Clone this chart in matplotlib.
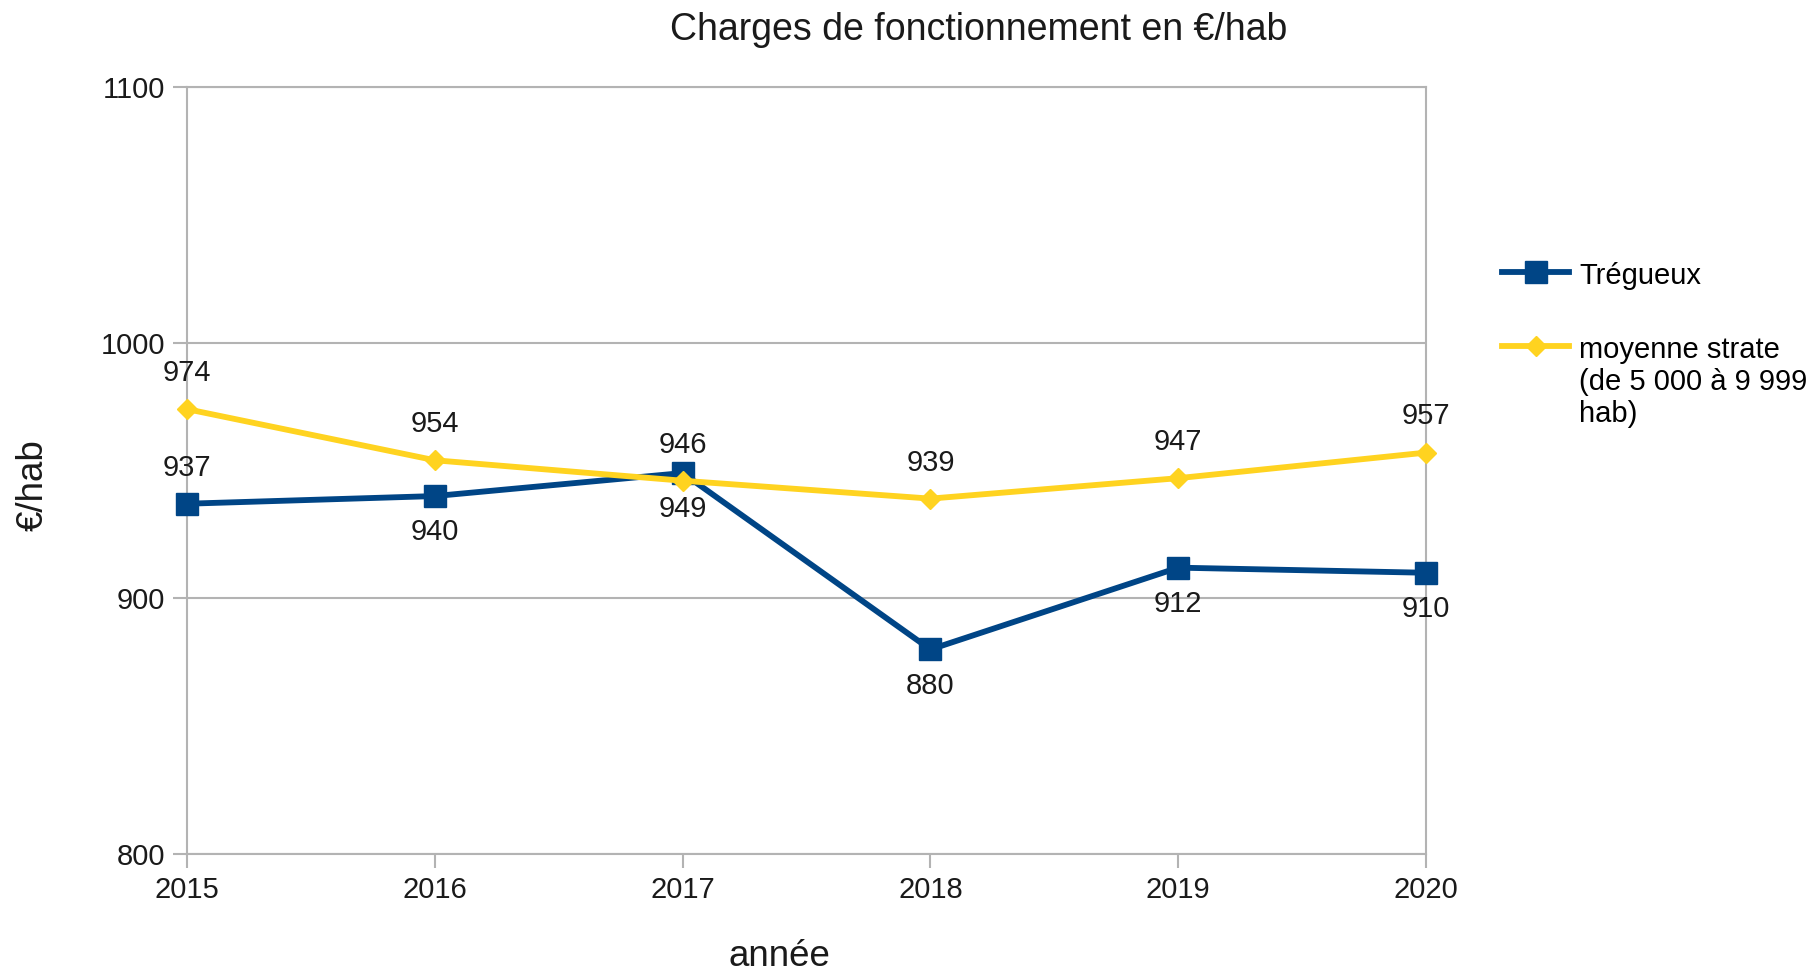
import matplotlib.pyplot as plt
from matplotlib.ticker import MultipleLocator

plt.rcParams['font.family'] = ['Liberation Sans', 'DejaVu Sans']

# data
years = [2015, 2016, 2017, 2018, 2019, 2020]
tregueux = [937, 940, 949, 880, 912, 910]
moyenne = [974, 954, 946, 939, 947, 957]
label_tregueux = 'Trégueux'
label_moyenne = 'moyenne strate\n(de 5 000 à 9 999\nhab)'

blue = '#004586'
yellow = '#ffd320'
grey = '#b3b3b3'
txt = '#1a1a1a'

fig = plt.figure(figsize=(18.12, 9.73), dpi=100)
ax = fig.add_axes([0.1032, 0.1223, 0.6838, 0.7883])

ax.plot(years, tregueux, color=blue, lw=4.2, marker='s', ms=16.5,
        label=label_tregueux, zorder=3, clip_on=False)
ax.plot(years, moyenne, color=yellow, lw=4.2, marker='D', ms=10,
        label=label_moyenne, zorder=4, clip_on=False)

# data labels (blue: first above, rest below; yellow: all above)
tregueux_side = [1, -1, -1, -1, -1, -1]
for x, y, s in zip(years, tregueux, tregueux_side):
    ax.annotate(str(y), (x, y), xytext=(0, 26 * s), textcoords='offset points',
                ha='center', va='center', fontsize=21, color=txt)
for x, y in zip(years, moyenne):
    ax.annotate(str(y), (x, y), xytext=(0, 26), textcoords='offset points',
                ha='center', va='center', fontsize=21, color=txt)

ax.set_xlim(2015, 2020)
ax.set_ylim(800, 1100)
ax.yaxis.set_major_locator(MultipleLocator(100))
ax.set_xticks(years)
ax.grid(axis='y', color=grey, lw=1.5)
ax.set_axisbelow(True)
for sp in ax.spines.values():
    sp.set_color(grey)
    sp.set_linewidth(1.5)
ax.tick_params(colors=grey, labelcolor=txt, labelsize=21, length=10, width=1.5)
ax.tick_params(axis='y', pad=6)
ax.tick_params(axis='x', pad=6)

ax.set_xlabel('année', fontsize=26.5, color=txt)
ax.xaxis.set_label_coords(0.478, -0.134)
ax.xaxis.label.set_va('center')
ax.set_ylabel('€/hab', fontsize=26.5, color=txt)
ax.yaxis.set_label_coords(-0.124, 0.481)
ax.yaxis.label.set_va('center')

fig.text(0.540, 0.969, 'Charges de fonctionnement en €/hab', fontsize=27,
         ha='center', va='center', color=txt)

leg = fig.legend(loc='upper left', bbox_to_anchor=(0.829, 0.731), frameon=False,
                 fontsize=21, handlelength=2.3, handletextpad=0.35, labelspacing=1.57,
                 borderaxespad=0, borderpad=0)
# put the marker next to the first line of a multi-line label
for col in leg._legend_handle_box.get_children():
    for row in col.get_children():
        row.align = 'top'

fig.savefig('out.png', dpi=100)
